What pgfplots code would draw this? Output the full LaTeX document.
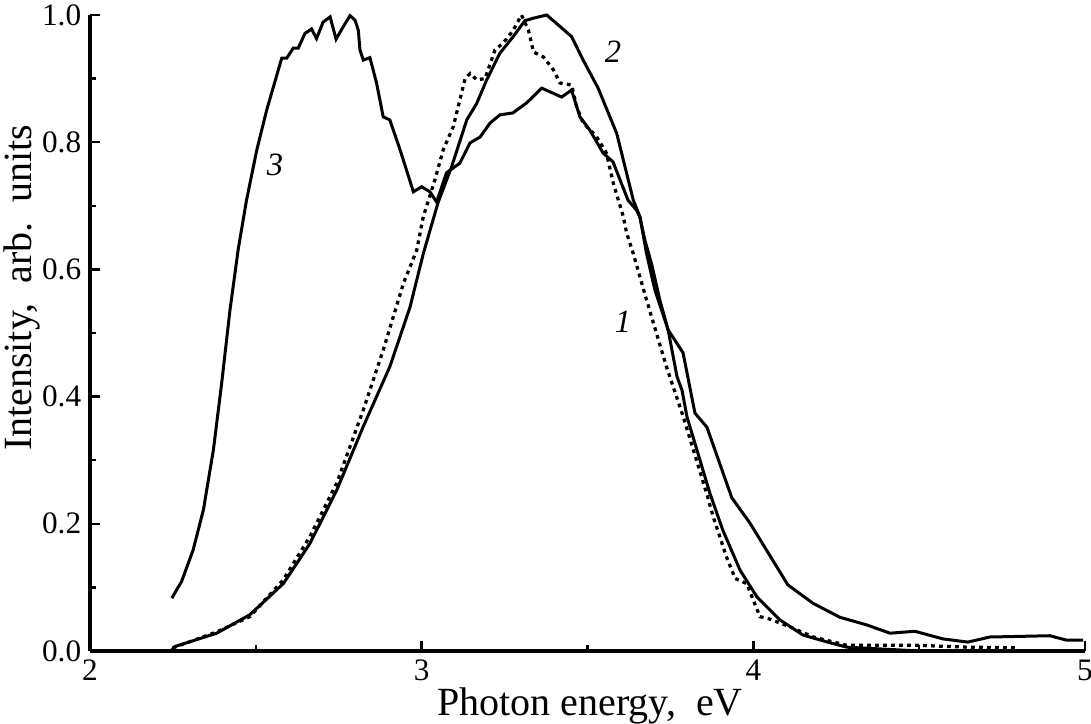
\documentclass[border=0pt]{standalone}
\usepackage{pgfplots}
\pgfplotsset{compat=1.18}
\usepackage{fontspec}
\setmainfont{Liberation Serif}
\begin{document}
\begin{tikzpicture}
\begin{axis}[
  scale only axis,
  width=398pt, height=254.4pt,
  xmin=2, xmax=5, ymin=0, ymax=1,
  axis lines=left,
  axis line style={-, line width=1.3pt},
  xtick={2,3,4,5}, minor xtick={2.5,3.5,4.5},
  ytick={0,0.2,0.4,0.6,0.8,1.0}, minor ytick={0.1,0.3,0.5,0.7,0.9},
  tick align=inside,
  major tick length=4pt, minor tick length=2.6pt,
  every tick/.style={black, line width=1pt},
  yticklabel style={/pgf/number format/.cd, fixed, fixed zerofill, precision=1},
  /pgf/number format/assume math mode=true,
  tick label style={font=\fontsize{12.5}{14}\selectfont},
  label style={font=\fontsize{16}{18}\selectfont},
  xlabel={Photon energy,\ \ eV},
  ylabel={Intensity,\ \ arb.\ \ units},
  xlabel style={at={(axis description cs:0.5025,-0.087)}, anchor=center},
  ylabel style={at={(axis description cs:-0.068,0.571)}, anchor=center},
  clip=false,
]
% curve 3
\addplot[black, line width=1.2pt] coordinates {
(2.247,0.083) (2.262,0.097) (2.276,0.109) (2.311,0.159) (2.342,0.222) (2.372,0.316)
(2.397,0.421) (2.422,0.536) (2.447,0.632) (2.472,0.709) (2.503,0.788) (2.533,0.851)
(2.578,0.932) (2.593,0.932) (2.613,0.948) (2.628,0.948) (2.648,0.971) (2.668,0.978)
(2.683,0.963) (2.703,0.989) (2.724,0.997) (2.742,0.962) (2.764,0.982) (2.784,0.999)
(2.799,0.992) (2.809,0.976) (2.814,0.945) (2.824,0.929) (2.844,0.933) (2.864,0.893)
(2.884,0.840) (2.904,0.835) (2.935,0.788) (2.975,0.722) (3.000,0.730) (3.025,0.722)
(3.045,0.706) (3.075,0.752) (3.115,0.767) (3.146,0.799) (3.176,0.808) (3.206,0.830)
(3.236,0.843) (3.275,0.846) (3.317,0.862) (3.362,0.885) (3.422,0.871) (3.452,0.882)
(3.477,0.840) (3.507,0.819) (3.547,0.783) (3.577,0.769) (3.598,0.741) (3.622,0.709)
(3.648,0.693) (3.658,0.682) (3.673,0.646) (3.694,0.607) (3.718,0.552) (3.743,0.505)
(3.788,0.469) (3.824,0.374) (3.860,0.352) (3.935,0.241) (3.990,0.201) (4.104,0.104)
(4.180,0.075) (4.261,0.053) (4.342,0.041) (4.412,0.028) (4.487,0.031) (4.572,0.019)
(4.647,0.014) (4.713,0.022) (4.894,0.024) (4.945,0.017) (4.994,0.017)
};
% curve 2
\addplot[black, line width=1.2pt] coordinates {
(2.247,0.002) (2.256,0.007) (2.382,0.028) (2.482,0.057) (2.583,0.106) (2.663,0.169)
(2.744,0.253) (2.824,0.353) (2.904,0.447) (2.965,0.541) (3.005,0.625) (3.050,0.706)
(3.090,0.761) (3.136,0.835) (3.166,0.861) (3.196,0.898) (3.236,0.940) (3.276,0.966)
(3.311,0.991) (3.337,0.995) (3.377,1.000) (3.417,0.982) (3.452,0.966) (3.487,0.929)
(3.532,0.885) (3.588,0.814) (3.638,0.709) (3.658,0.683) (3.678,0.625) (3.703,0.568)
(3.743,0.505) (3.770,0.431) (3.785,0.410) (3.800,0.368) (3.830,0.316) (3.869,0.248)
(3.908,0.190) (3.960,0.127) (4.011,0.085) (4.080,0.049) (4.150,0.025) (4.231,0.013)
(4.282,0.006) (4.391,0.003) (4.502,0.000)
};
% dotted curve
\addplot[black, line width=1.3pt, dash pattern=on 1.5pt off 1.7pt] coordinates {
(2.250,0.005) (2.382,0.030) (2.482,0.054) (2.583,0.112) (2.663,0.180) (2.744,0.264)
(2.824,0.379) (2.884,0.473) (2.945,0.578) (2.985,0.630) (3.005,0.683) (3.040,0.741)
(3.065,0.788) (3.095,0.824) (3.115,0.866) (3.131,0.900) (3.146,0.908) (3.166,0.898)
(3.191,0.900) (3.221,0.945) (3.246,0.956) (3.276,0.976) (3.301,1.000) (3.322,0.976)
(3.337,0.942) (3.367,0.934) (3.397,0.914) (3.417,0.893) (3.452,0.890) (3.467,0.856)
(3.487,0.830) (3.527,0.809) (3.557,0.783) (3.578,0.735) (3.608,0.683) (3.618,0.657)
(3.638,0.625) (3.678,0.552) (3.738,0.447) (3.789,0.368) (3.859,0.248) (3.879,0.211)
(3.919,0.148) (3.945,0.114) (3.980,0.106) (4.020,0.054) (4.045,0.051) (4.110,0.038)
(4.181,0.022) (4.281,0.009) (4.493,0.009) (4.644,0.006) (4.795,0.005)
};
\node[font=\fontsize{13}{14}\selectfont\itshape] at (axis cs:2.558,0.764) {3};
\node[font=\fontsize{13}{14}\selectfont\itshape] at (axis cs:3.577,0.942) {2};
\node[font=\fontsize{13}{14}\selectfont\itshape] at (axis cs:3.607,0.517) {1};
\end{axis}
\pgfresetboundingbox
\path[use as bounding box] ([shift={(-36pt,-28.8pt)}]current axis.south west) rectangle ([shift={(2.4pt,6pt)}]current axis.north east);
\end{tikzpicture}
\end{document}
